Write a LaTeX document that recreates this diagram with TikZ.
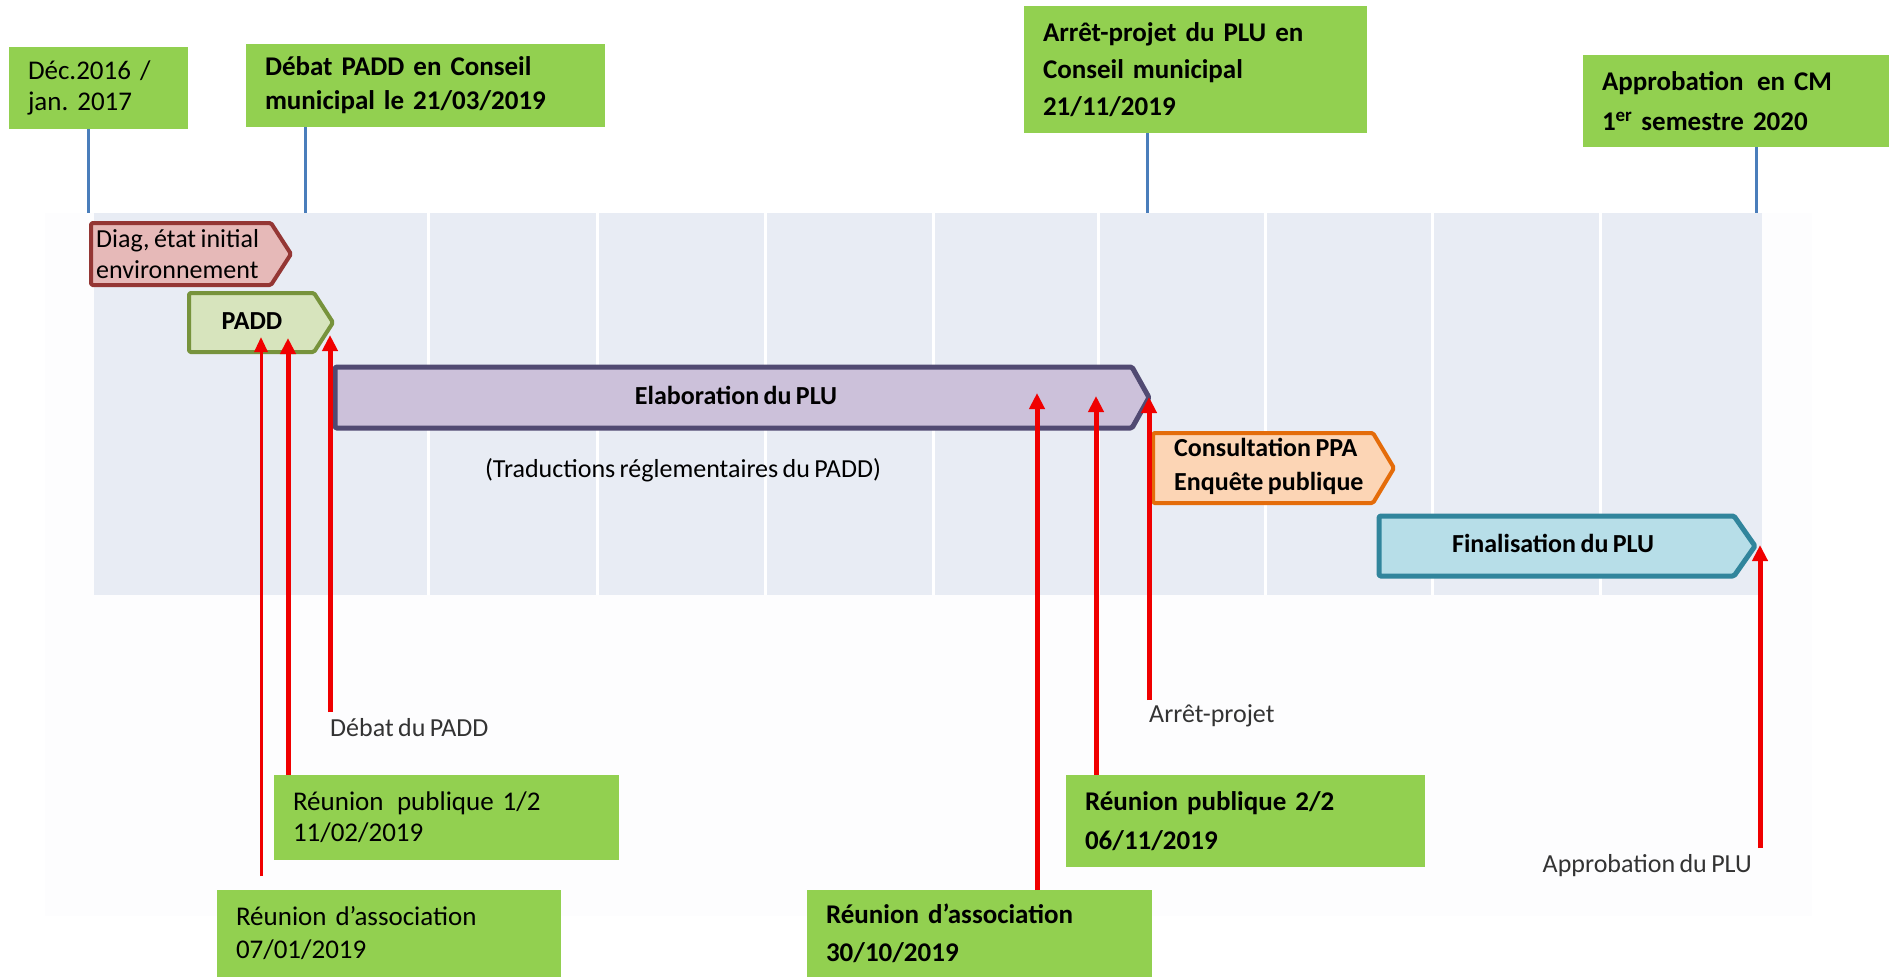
\documentclass[tikz,border=0pt]{standalone}
\usepackage{fontspec}
\setmainfont{Carlito}[WordSpace=0.75]
\usetikzlibrary{arrows.meta}
\definecolor{boxgreen}{HTML}{92D050}
\definecolor{lineblue}{HTML}{4A7EBB}
\definecolor{panelbg}{HTML}{E8ECF4}
\definecolor{framebg}{HTML}{FDFDFE}
\definecolor{arrred}{HTML}{F00000}
\definecolor{diagfill}{HTML}{E6B9B8}
\definecolor{diagdraw}{HTML}{943634}
\definecolor{paddfill}{HTML}{D7E4BD}
\definecolor{padddraw}{HTML}{77933C}
\definecolor{elabfill}{HTML}{CCC1DA}
\definecolor{elabdraw}{HTML}{514A72}
\definecolor{consfill}{HTML}{FCD5B5}
\definecolor{consdraw}{HTML}{E46C0A}
\definecolor{finfill}{HTML}{B7DEE8}
\definecolor{findraw}{HTML}{31859C}
\newcommand\fs[2]{\fontsize{#1pt}{#2pt}\selectfont}
\frenchspacing
\begin{document}
\begin{tikzpicture}[x=1pt,y=-1pt,
  greenbox/.style={fill=boxgreen, draw=none, anchor=north west, inner xsep=19pt, inner ysep=0pt, align=left, outer sep=0pt},
  blueline/.style={draw=lineblue, line width=3pt},
  redarr/.style={draw=arrred, line width=5pt, -{Triangle[width=15pt,length=16pt]}},
  thinarr/.style={draw=arrred, line width=3pt, -{Triangle[width=13pt,length=15pt]}},
  chev/.style={line width=4pt, rounded corners=1.5pt, line join=round},
  intext/.style={inner sep=0pt, align=left},
  label/.style={inner sep=0pt, text=black!80, font=\fs{26}{30}},
  gridline/.style={draw=white, line width=3pt}
]
\useasboundingbox (0,0) rectangle (1889,977);
\fill[white] (0,0) rectangle (1889,977);
% faint frame and panel
\fill[framebg] (45,213) rectangle (1812,916);
\fill[panelbg] (94,213) rectangle (1762,595);
\foreach \gx in {428,597,765,933,1098,1265,1432,1600}
  \draw[gridline] (\gx,213) -- (\gx,595);
% panel anchor coordinates for the blue lines
\coordinate (t1) at (88,213);
\coordinate (t2) at (305,213);
\coordinate (t3) at (1147,213);
\coordinate (t4) at (1756,213);
% top green boxes
\node[greenbox, text width=141pt, minimum height=82pt, font=\fs{27}{31}] (dec) at (9,47) {Déc.2016 /\\jan. 2017};
\node[greenbox, text width=321pt, minimum height=83pt, font=\bfseries\fs{27}{34}] (debat) at (246,44) {Débat PADD en Conseil\\municipal le 21/03/2019};
\node[greenbox, text width=305pt, minimum height=127pt, font=\bfseries\fs{27}{37}] (arret) at (1024,6) {Arrêt-projet du PLU en\\Conseil municipal\\21/11/2019};
\node[greenbox, text width=268pt, minimum height=92pt, font=\bfseries\fs{27}{40}] (approb) at (1583,55) {Approbation\, en CM\\1\textsuperscript{er} semestre 2020};
\draw[blueline] (dec.south -| t1) -- (t1);
\draw[blueline] (debat.south -| t2) -- (t2);
\draw[blueline] (arret.south -| t3) -- (t3);
\draw[blueline] (approb.south -| t4) -- (t4);
% chevrons
\draw[chev, fill=diagfill, draw=diagdraw] (91,223) -- (271,223) -- (291,254) -- (271,285) -- (91,285) -- cycle;
\coordinate (diagtip) at (291,254);
\draw[chev, fill=paddfill, draw=padddraw] (189,293) -- (314,293) -- (333,322.5) -- (314,352) -- (189,352) -- cycle;
\coordinate (paddtip) at (333,322.5);
\draw[chev, line width=5pt, fill=elabfill, draw=elabdraw] (335,367) -- (1132,367) -- (1149,397.5) -- (1132,428) -- (335,428) -- cycle;
\coordinate (elabtip) at (1149,397.5);
\draw[chev, fill=consfill, draw=consdraw] (1153,433) -- (1373,433) -- (1394,468) -- (1373,503) -- (1153,503) -- cycle;
\coordinate (constip) at (1394,468);
\draw[chev, line width=5pt, fill=finfill, draw=findraw] (1379,516) -- (1734,516) -- (1755,546) -- (1734,576) -- (1379,576) -- cycle;
\coordinate (fintip) at (1755,546);
% texts in chevrons
\node[intext, anchor=west, font=\fs{26}{31}] (diagt) at (96,254) {Diag, état initial\\environnement};
\node[intext, font=\bfseries\fs{26}{30}] (paddt) at (252,321) {PADD};
\node[intext, font=\bfseries\fs{26}{30}] (elabt) at (736,395) {Elaboration du PLU};
\node[intext, font=\fs{26}{30}] (tradt) at (683,470) {(Traductions réglementaires du PADD)};
\node[intext, anchor=west, font=\bfseries\fs{26}{34}] (const) at (1174,466) {Consultation PPA\\Enquête publique};
\node[intext, font=\bfseries\fs{26}{30}] (fint) at (1553,543) {Finalisation du PLU};
% labels
\node[label, anchor=west] (lbldebat) at (330,728) {Débat du PADD};
\node[label, anchor=west] (lblarret) at (1149,716) {Arrêt-projet};
\node[label, anchor=east] (lblapprob) at (1752,866) {Approbation du PLU};
% bottom green boxes
\node[greenbox, text width=307pt, minimum height=85pt, font=\fs{27}{31}] (rp1) at (274,775) {Réunion\, publique 1/2\\11/02/2019};
\node[greenbox, text width=306pt, minimum height=87pt, font=\fs{27}{33}] (ra1) at (217,890) {Réunion d’association\\07/01/2019};
\node[greenbox, text width=307pt, minimum height=87pt, font=\bfseries\fs{27}{38}] (ra2) at (807,890) {Réunion d’association\\30/10/2019};
\node[greenbox, text width=321pt, minimum height=92pt, font=\bfseries\fs{27}{39}] (rp2) at (1066,775) {Réunion publique 2/2\\06/11/2019};
% arrow tips and free ends
\coordinate (a1t) at (261,337);
\coordinate (a2t) at (288,338);
\coordinate (a3t) at (330,335);
\coordinate (a4t) at (1037,393);
\coordinate (a5t) at (1096,396);
\coordinate (a6t) at (1149,397);
\coordinate (a7t) at (1760,545);
\coordinate (a1b) at (261,876);
\coordinate (a3b) at (330,712);
\coordinate (a6b) at (1149,700);
\coordinate (a7b) at (1760,848);
\draw[thinarr] (a1b) -- (a1t);
\draw[redarr] (rp1.north -| a2t) -- (a2t);
\draw[redarr] (a3b) -- (a3t);
\draw[redarr] (ra2.north -| a4t) -- (a4t);
\draw[redarr] (rp2.north -| a5t) -- (a5t);
\draw[redarr] (a6b) -- (a6t);
\draw[redarr] (a7b) -- (a7t);
\end{tikzpicture}
\end{document}
